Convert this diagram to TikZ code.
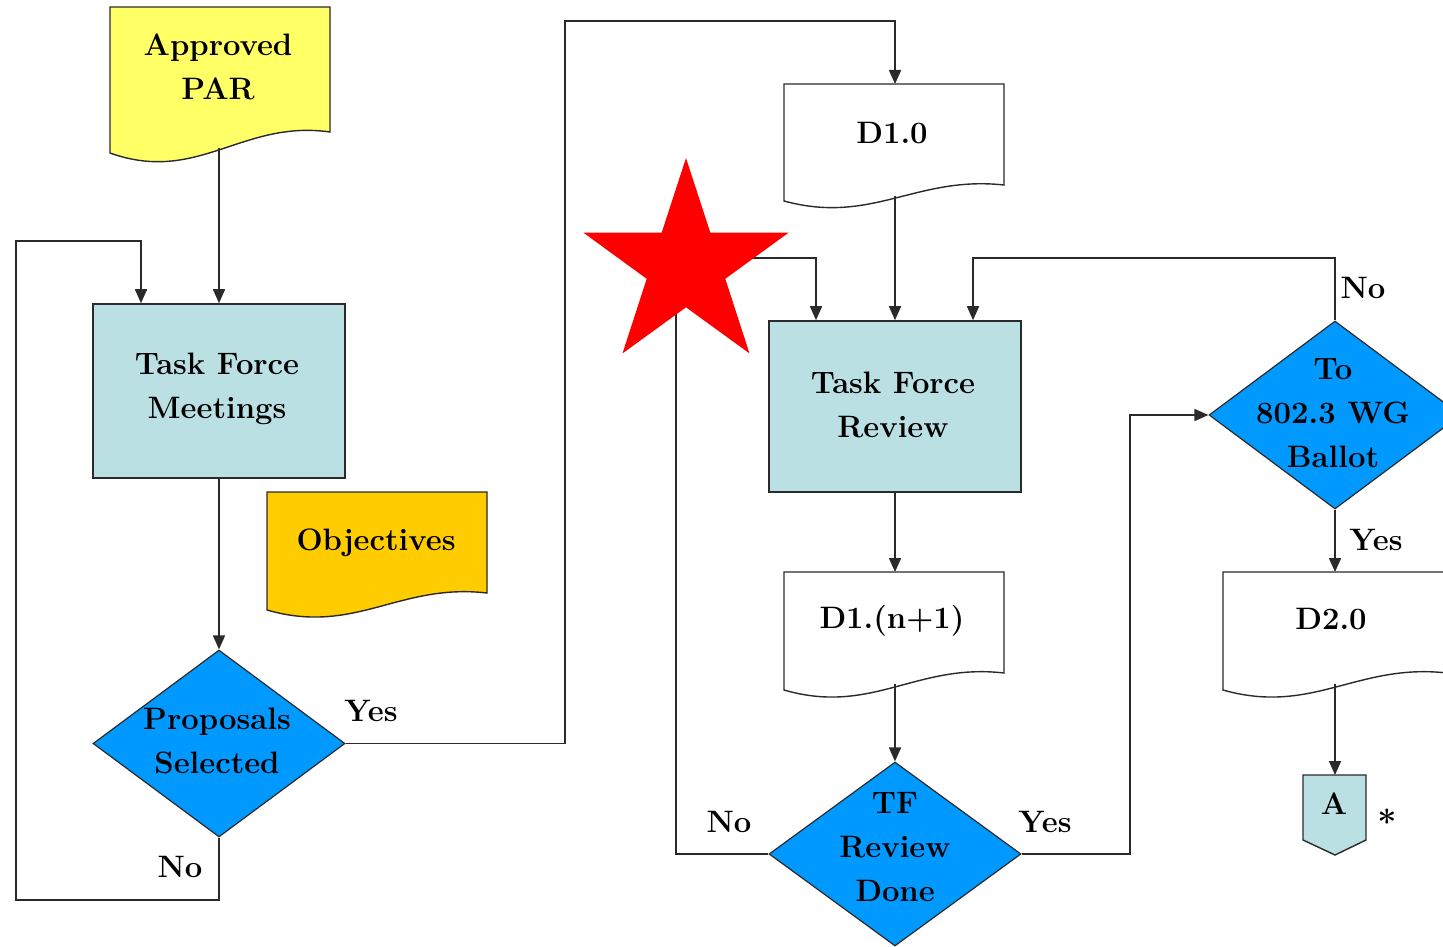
\documentclass[tikz,border=0pt]{standalone}
\usetikzlibrary{shapes.geometric,arrows.meta}
\definecolor{parY}{HTML}{FFFF66}
\definecolor{objO}{HTML}{FFCC00}
\definecolor{tfB}{HTML}{BBE0E3}
\definecolor{decB}{HTML}{0099FF}
\definecolor{lineK}{HTML}{2A2A2A}
\newcommand\docshape[6]{%
 \filldraw[docline, fill=#6] (#1,#2) -- (#3,#2) -- (#3,#5) .. controls ({#1+0.6*(#3-#1)},{#5-0.6*(#4-#5)}) and ({#1+0.4*(#3-#1)},{#4+1.5*(#4-#5)}) .. (#1,#4) -- cycle;}
\begin{document}
\begin{tikzpicture}[x=1pt,y=-1pt,
 lbl/.style={font=\fontsize{31}{44}\selectfont\bfseries, align=center, inner sep=0},
 tfbox/.style={draw=lineK, line width=1.6pt, fill=tfB, rectangle, inner sep=0},
 dec/.style={draw=lineK, line width=1.2pt, fill=decB, diamond, inner sep=0, aspect=1},
 docline/.style={draw=lineK, line width=1.4pt},
 conn/.style={draw=lineK, line width=1.6pt},
 arr/.style={conn, -{Triangle[length=14pt,width=12pt]}},
]
\useasboundingbox (0,0) rectangle (1443,947);
\fill[white] (0,0) rectangle (1443,947);
\clip (0,0) rectangle (1443,947);

% document shapes
\docshape{110}{7}{330}{153}{132}{parY}
\node[lbl] (par) at (218,67) {Approved\\PAR};
\coordinate (parB) at (219,148);

\docshape{267}{492}{487}{610}{593}{objO}
\node[lbl] (obj) at (376,543) {Objectives};

\docshape{784}{84}{1004}{201}{185}{white}
\node[lbl] (d10) at (892,133) {D1.0};
\coordinate (d10T) at (895,84);
\coordinate (d10B) at (895,196);

\docshape{784}{572}{1004}{690}{673}{white}
\node[lbl] (d1n) at (892,621) {D1.(n+1)};
\coordinate (d1nT) at (895,572);
\coordinate (d1nB) at (895,684);

\docshape{1223}{572}{1447}{690}{673}{white}
\node[lbl] (d20) at (1331,619) {D2.0};
\coordinate (d20T) at (1335,572);
\coordinate (d20B) at (1335,684);

% process boxes
\node[tfbox, minimum width=252, minimum height=174] (tfm) at (219,391) {};
\node[lbl] (tfmt) at (217,389) {Task Force\\Meetings};
\node[tfbox, minimum width=252, minimum height=171] (tfr) at (895,406.5) {};
\node[lbl] (tfrt) at (893,405) {Task Force\\Review};

% decisions
\node[dec, minimum width=252, minimum height=187] (ps) at (219,743.5) {};
\node[lbl] (pst) at (217,741) {Proposals\\Selected};
\node[dec, minimum width=252, minimum height=184] (tfd) at (895,854) {};
\node[lbl] (tfdt) at (895,847) {TF\\Review\\Done};
\node[dec, minimum width=252, minimum height=188] (bal) at (1335,415) {};
\node[lbl] (balt) at (1333,413) {To\\802.3 WG\\Ballot};

% off-page connector
\filldraw[docline, fill=tfB] (1303,775) -- (1366,775) -- (1366,840) -- (1335,855) -- (1303,840) -- cycle;
\node[lbl] (A) at (1334,804) {A};
\coordinate (At) at (1335,775);
\node[font=\fontsize{34}{34}\selectfont\bfseries, inner sep=0] (ast) at (1387,822) {*};

% connectors
\coordinate (c1) at (16,900);
\coordinate (c2) at (16,241);
\coordinate (y1) at (565,21);
\coordinate (n1) at (676,258);
\coordinate (n2) at (1335,258);
\coordinate (y2) at (1130,415);

\draw[arr] (parB) -- (parB |- tfm.north);
\draw[arr] (ps.south) |- (c1) -- (c2) -| ([xshift=-78pt]tfm.north);
\draw[arr] (tfm.south) -- (ps.north);
\draw[arr] (ps.east) -| (y1) -| (d10T);
\draw[arr] (d10B) -- (d10B |- tfr.north);
\draw[arr] (tfd.west) -| (n1) -| ([xshift=-79pt]tfr.north);
\draw[arr] (bal.north) -- (n2) -| ([xshift=78pt]tfr.north);
\draw[arr] (tfr.south) -- (d1nT);
\draw[arr] (d1nB) -- (tfd.north);
\draw[arr] (tfd.east) -| (y2) -- (bal.west);
\draw[arr] (bal.south) -- (d20T);
\draw[arr] (d20B) -- (At);

% branch labels
\node[lbl] (ly1) at (371,711) {Yes};
\node[lbl] (ln1) at (180,867) {No};
\node[lbl] (ln2) at (729,822) {No};
\node[lbl] (ly2) at (1045,822) {Yes};
\node[lbl] (ln3) at (1363,288) {No};
\node[lbl] (ly3) at (1376,540) {Yes};

% star
\fill[red] (686,158) -- (710.3,232.6) -- (788.7,232.6) -- (725.3,278.8) -- (749.5,353.4) -- (686,307.3) -- (622.5,353.4) -- (646.7,278.8) -- (583.3,232.6) -- (661.7,232.6) -- cycle;
\end{tikzpicture}
\end{document}
